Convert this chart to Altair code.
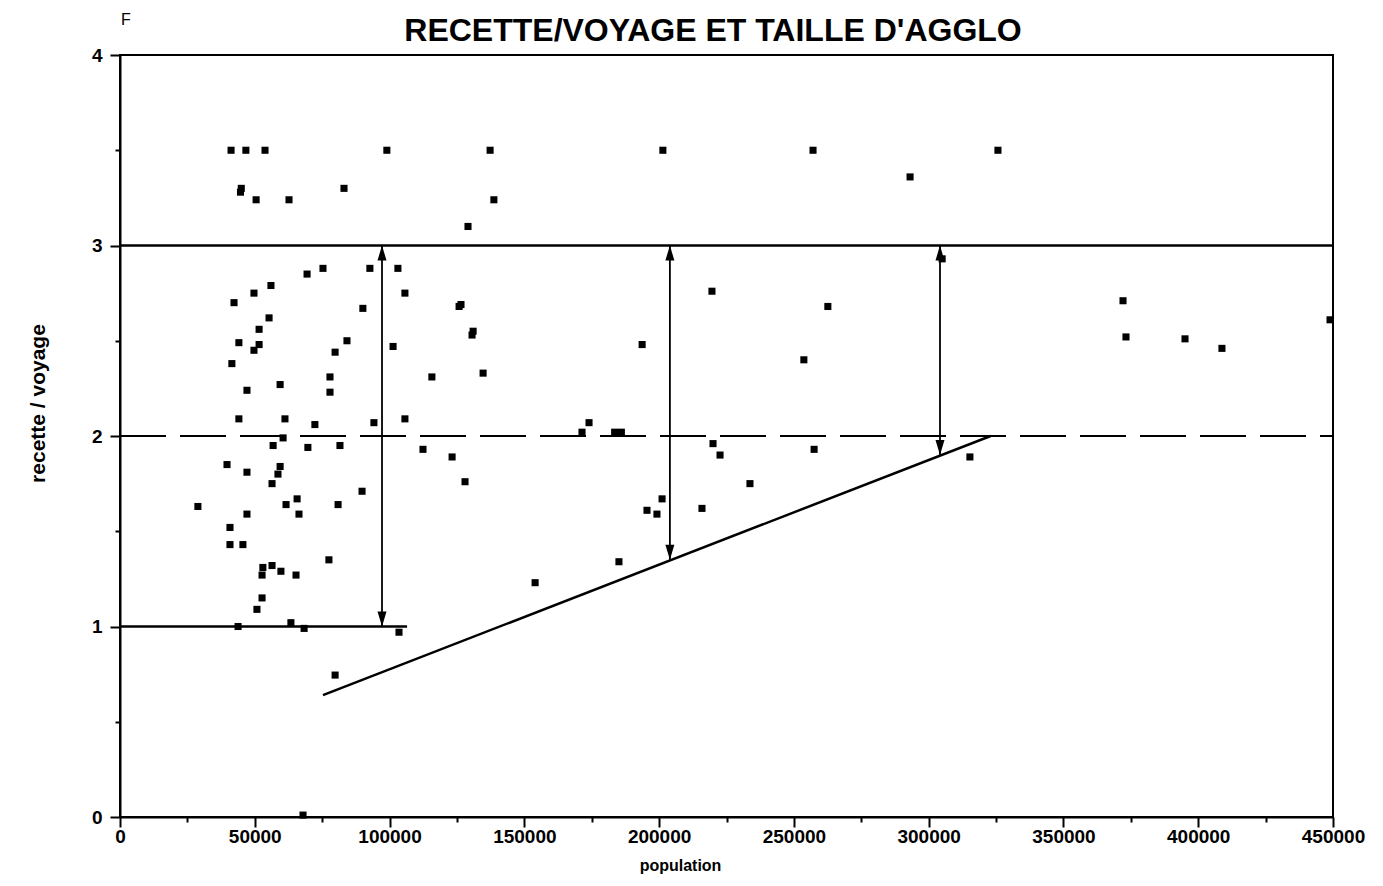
import altair as alt
import pandas as pd

# ---- scatter data (population, recette/voyage) ----
population = [
    41200, 46700, 53800, 99000, 137300, 201400, 257100, 325700,
    45000, 44700, 50500, 62700, 83100, 138700, 129100, 293100,
    69400, 75300, 92700, 103100, 56000, 49700, 42300, 105700, 55300, 51600,
    90100, 44100, 51600, 49700, 84200, 101300, 79800, 41500, 77900, 115700,
    47100, 59400, 77900, 44100, 61200, 72300, 94200, 105700,
    60500, 56800, 69700, 81600, 112400, 39700, 47100, 59400, 58600, 56400,
    89800, 28900, 61600, 65700, 66400, 80900, 47100, 40800, 40800, 45600,
    77500, 53000, 56400, 52700, 59700, 65300, 52700, 50800, 43800, 63400,
    68300, 103500, 79800, 67900,
    125800, 126500, 131000, 130600, 134700, 193700, 219600, 262600, 253700,
    174000, 171400, 183500, 186000, 123200, 128000, 220000, 222600, 257500,
    233700, 201100, 195500, 199200, 215900, 185100, 154000,
    305000, 372100, 373200, 395100, 408800, 448900, 315300,
]
recette = [
    3.50, 3.50, 3.50, 3.50, 3.50, 3.50, 3.50, 3.50,
    3.30, 3.28, 3.24, 3.24, 3.30, 3.24, 3.10, 3.36,
    2.85, 2.88, 2.88, 2.88, 2.79, 2.75, 2.70, 2.75, 2.62, 2.56,
    2.67, 2.49, 2.48, 2.45, 2.50, 2.47, 2.44, 2.38, 2.31, 2.31,
    2.24, 2.27, 2.23, 2.09, 2.09, 2.06, 2.07, 2.09,
    1.99, 1.95, 1.94, 1.95, 1.93, 1.85, 1.81, 1.84, 1.80, 1.75,
    1.71, 1.63, 1.64, 1.67, 1.59, 1.64, 1.59, 1.52, 1.43, 1.43,
    1.35, 1.31, 1.32, 1.27, 1.29, 1.27, 1.15, 1.09, 1.00, 1.02,
    0.99, 0.97, 0.745, 0.01,
    2.68, 2.69, 2.55, 2.53, 2.33, 2.48, 2.76, 2.68, 2.40,
    2.07, 2.02, 2.02, 2.02, 1.89, 1.76, 1.96, 1.90, 1.93,
    1.75, 1.67, 1.61, 1.59, 1.62, 1.34, 1.23,
    2.93, 2.71, 2.52, 2.51, 2.46, 2.61, 1.89,
]

# ---- annotation lines ----
solid_y = [3, 1]
solid_x_start = [0, 0]
solid_x_end = [450000, 106500]

dashed_y = [2]
dashed_x_start = [0]
dashed_x_end = [450000]

slope_x = [75300, 323000]
slope_y = [0.64, 2.0]

arrow_x = [97200, 204000, 304200]
arrow_top = [3.0, 3.0, 3.0]
arrow_bottom = [1.0, 1.35, 1.90]

x_ticks = list(range(0, 450001, 25000))
y_ticks = [i * 0.5 for i in range(9)]

FONT = "Liberation Sans, Arial, Helvetica, sans-serif"
TITLE = "RECETTE/VOYAGE ET TAILLE D'AGGLO"
UNIT = "F"
X_TITLE = "population"
Y_TITLE = "recette / voyage"

pts = pd.DataFrame({"population": population, "recette": recette})
solid = pd.DataFrame({"x1": solid_x_start, "x2": solid_x_end, "y": solid_y})
dashed = pd.DataFrame({"x1": dashed_x_start, "x2": dashed_x_end, "y": dashed_y})
slope = pd.DataFrame({"x": slope_x, "y": slope_y})
arrows = pd.DataFrame({"x": arrow_x, "top": arrow_top, "bot": arrow_bottom})

xs = alt.Scale(domain=[0, 450000], nice=False, zero=False)
ys = alt.Scale(domain=[0, 4], nice=False)

x_axis = alt.Axis(
    values=x_ticks,
    labelExpr="datum.value % 50000 === 0 ? format(datum.value, 'd') : ''",
    tickSize={"condition": {"test": "datum.value % 50000 === 0", "value": 10}, "value": 5},
    tickColor="black", tickWidth=2,
    domainColor="black", domainWidth=2,
    labelFont=FONT, labelFontSize=19, labelFontWeight="bold", labelColor="black",
    labelPadding=0, labelFlush=False, labelOverlap=False, labelBound=False,
    grid=False,
    titleFont=FONT, titleFontSize=16, titleFontWeight="bold", titleColor="black",
    titleX=560, titleY=40, titleBaseline="top", titleAlign="center",
)
y_axis = alt.Axis(
    values=y_ticks,
    labelExpr="datum.value % 1 === 0 ? format(datum.value, 'd') : ''",
    tickSize={"condition": {"test": "datum.value % 1 === 0", "value": 10}, "value": 5},
    tickColor="black", tickWidth=2,
    domainColor="black", domainWidth=2,
    labelFont=FONT, labelFontSize=19, labelFontWeight="bold", labelColor="black",
    labelPadding=8, labelOverlap=False, labelBound=False, labelFlush=False,
    grid=False,
    titleFont=FONT, titleFontSize=21, titleFontWeight="bold", titleColor="black",
    titleAngle=270, titleX=-82, titleY=348, titleAlign="center", titleBaseline="middle",
)


def X(field):
    return alt.X(field, type="quantitative", scale=xs, axis=x_axis, title=X_TITLE)


def Y(field):
    return alt.Y(field, type="quantitative", scale=ys, axis=y_axis, title=Y_TITLE)


points = alt.Chart(pts).mark_square(size=50, color="black", opacity=1).encode(
    x=X("population"), y=Y("recette"),
)
solid_rules = alt.Chart(solid).mark_rule(color="black", strokeWidth=2.5).encode(
    x=X("x1"), x2="x2:Q", y=Y("y"),
)
dashed_rules = alt.Chart(dashed).mark_rule(color="black", strokeWidth=2, strokeDash=[46, 14]).encode(
    x=X("x1"), x2="x2:Q", y=Y("y"),
)
slope_line = alt.Chart(slope).mark_line(color="black", strokeWidth=2.5).encode(
    x=X("x"), y=Y("y"),
)
arrow_shafts = alt.Chart(arrows).mark_rule(color="black", strokeWidth=1.8).encode(
    x=X("x"), y=Y("top"), y2="bot:Q",
)
up_heads = alt.Chart(arrows).mark_point(
    shape="M0,0L-0.3,1L0.3,1Z", filled=True, size=900, color="black", opacity=1, strokeWidth=0
).encode(x=X("x"), y=Y("top"))
down_heads = alt.Chart(arrows).mark_point(
    shape="M0,0L-0.3,-1L0.3,-1Z", filled=True, size=900, color="black", opacity=1, strokeWidth=0
).encode(x=X("x"), y=Y("bot"))

unit_label = alt.Chart(alt.Data(values=[{"t": UNIT}])).mark_text(
    align="left", baseline="middle", fontSize=16, font=FONT, color="black"
).encode(x=alt.value(1), y=alt.value(-35), text="t:N")

title_text = alt.Chart(alt.Data(values=[{"t": TITLE}])).mark_text(
    align="center", baseline="alphabetic", fontSize=32, fontWeight="bold", font=FONT, color="black"
).encode(x=alt.value(593), y=alt.value(-14), text="t:N")

chart = alt.layer(
    points, solid_rules, dashed_rules, slope_line, arrow_shafts, up_heads, down_heads,
    unit_label, title_text,
).properties(
    width=1213,
    height=762,
    autosize=alt.AutoSizeParams(type="none"),
    padding={"left": 112, "top": 47, "right": 42, "bottom": 61},
).configure(background="white").configure_view(stroke="black", strokeWidth=2)

chart.save("out.html", embed_options={"renderer": "svg", "actions": False})
